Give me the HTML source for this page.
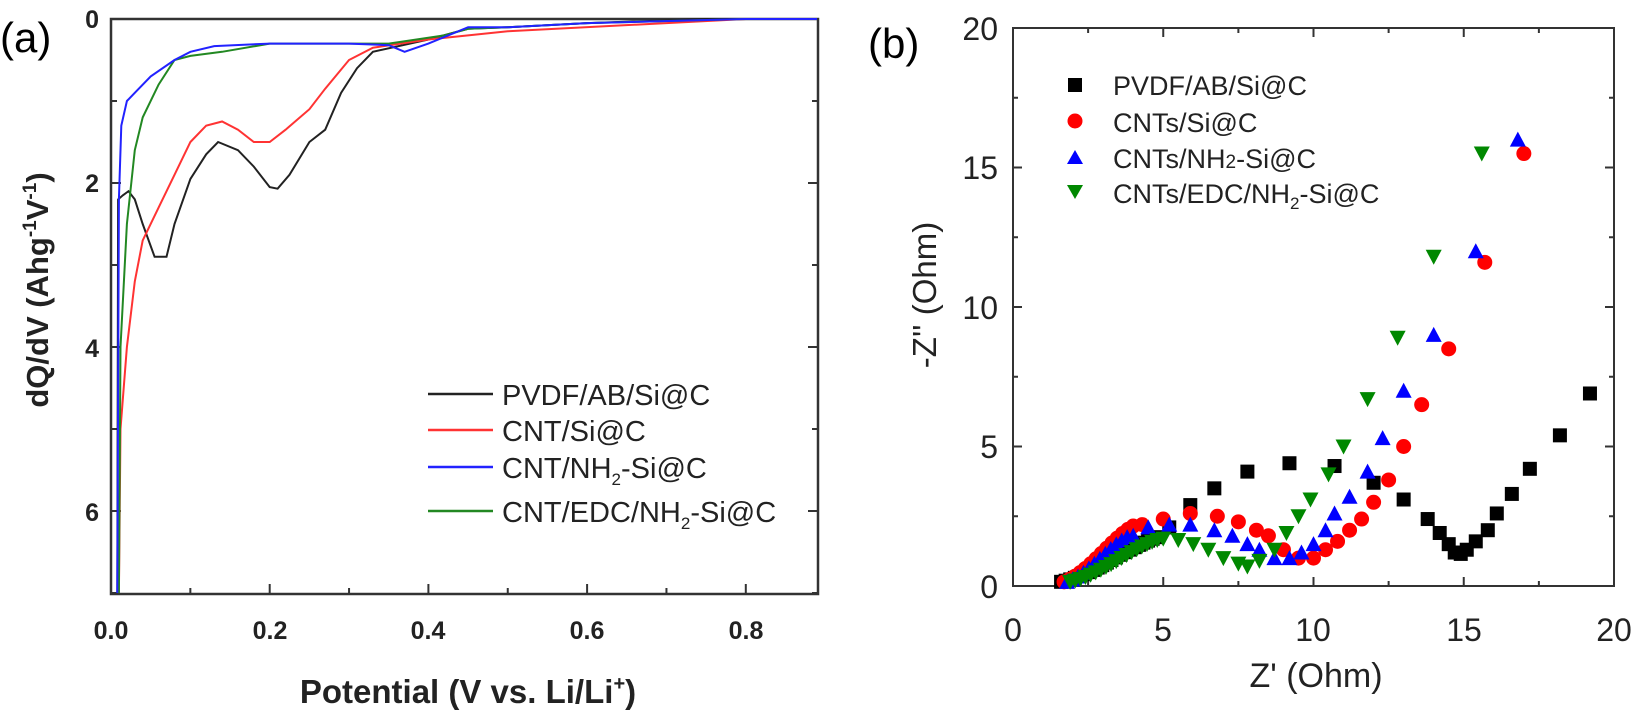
<!DOCTYPE html>
<html><head><meta charset="utf-8"><style>
html,body{margin:0;padding:0;background:#fff;overflow:hidden}
svg{display:block}
text{font-family:"Liberation Sans",Arial,sans-serif}
</style></head><body>
<svg id="s" width="1635" height="722" xmlns="http://www.w3.org/2000/svg">
<rect width="1635" height="722" fill="#fff"/>
<!-- Panel a -->
<text x="0" y="52" font-size="42">(a)</text>
<rect x="111" y="19" width="707" height="575" fill="none" stroke="#333" stroke-width="2.5"/>
<g id="ta"></g>
<g font-size="25" font-weight="bold" fill="#222" text-anchor="middle">
<text x="111" y="639">0.0</text><text x="270" y="639">0.2</text><text x="428" y="639">0.4</text><text x="587" y="639">0.6</text><text x="746" y="639">0.8</text>
</g>
<g font-size="25" font-weight="bold" fill="#222" text-anchor="end">
<text x="99" y="28">0</text><text x="99" y="192">2</text><text x="99" y="357">4</text><text x="99" y="521">6</text>
</g>
<text x="468" y="703" font-size="33" font-weight="bold" text-anchor="middle" fill="#222">Potential (V vs. Li/Li<tspan dy="-13" font-size="20">+</tspan><tspan dy="13">)</tspan></text>
<text transform="translate(48,290) rotate(-90)" font-size="31" font-weight="bold" text-anchor="middle" fill="#222">dQ/dV (Ahg<tspan dy="-12" font-size="19">-1</tspan><tspan dy="12">V</tspan><tspan dy="-12" font-size="19">-1</tspan><tspan dy="12">)</tspan></text>
<g id="ca" fill="none" stroke-width="2"></g>
<g stroke-width="2.5">
<line x1="428" y1="394" x2="493" y2="394" stroke="#222"/>
<line x1="428" y1="430" x2="493" y2="430" stroke="#f33"/>
<line x1="428" y1="467" x2="493" y2="467" stroke="#22f"/>
<line x1="428" y1="511" x2="493" y2="511" stroke="#282"/>
</g>
<g font-size="29" fill="#222">
<text x="502" y="405">PVDF/AB/Si@C</text>
<text x="502" y="441">CNT/Si@C</text>
<text x="502" y="478">CNT/NH<tspan dy="7" font-size="17">2</tspan><tspan dy="-7">-Si@C</tspan></text>
<text x="502" y="522">CNT/EDC/NH<tspan dy="7" font-size="17">2</tspan><tspan dy="-7">-Si@C</tspan></text>
</g>
<!-- Panel b -->
<text x="868" y="58" font-size="42">(b)</text>
<rect x="1013" y="28" width="601" height="558" fill="none" stroke="#333" stroke-width="2"/>
<g id="tb"></g>
<g font-size="32" fill="#222" text-anchor="middle">
<text x="1013" y="641">0</text><text x="1163" y="641">5</text><text x="1313" y="641">10</text><text x="1464" y="641">15</text><text x="1614" y="641">20</text>
<text x="1316" y="687" font-size="34">Z' (Ohm)</text>
</g>
<g font-size="32" fill="#222" text-anchor="end">
<text x="998" y="598">0</text><text x="998" y="458">5</text><text x="998" y="319">10</text><text x="998" y="179">15</text><text x="998" y="40">20</text>
</g>
<text transform="translate(936,295) rotate(-90)" font-size="33" text-anchor="middle" fill="#222">-Z'' (Ohm)</text>
<g id="mb"></g>
<g font-size="27" fill="#222">
<rect x="1068" y="78" width="14" height="14" fill="#000"/>
<circle cx="1075" cy="121" r="7.5" fill="#f00"/>
<polygon points="1075,150 1083,164 1067,164" fill="#00f"/>
<polygon points="1067,185 1083,185 1075,199" fill="#080"/>
<text x="1113" y="95">PVDF/AB/Si@C</text>
<text x="1113" y="132">CNTs/Si@C</text>
<text x="1113" y="168">CNTs/NH<tspan font-size="19">2</tspan>-Si@C</text>
<text x="1113" y="203">CNTs/EDC/NH<tspan dy="6" font-size="17">2</tspan><tspan dy="-6">-Si@C</tspan></text>
</g>
</svg>
<script>
var NS="http://www.w3.org/2000/svg";
function el(p,t,a){var e=document.createElementNS(NS,t);for(var k in a)e.setAttribute(k,a[k]);document.getElementById(p).appendChild(e);return e;}
for(var i=0;i<=9;i++){var x=111+i*0.1*793.5;if(x>818)break;el('ta','line',{x1:x,y1:594,x2:x,y2:(i%2?588:584),stroke:'#333','stroke-width':2});}
for(var y=0;y<=7;y++){var yy=19+y*82;el('ta','line',{x1:111,y1:yy,x2:y%2?117:121,y2:yy,stroke:'#333','stroke-width':2});el('ta','line',{x1:818,y1:yy,x2:y%2?812:808,y2:yy,stroke:'#333','stroke-width':2});}
function ax(v){return 111+v*793.5}function ay(d){return 19+d*82}
var A={
'#222':[[0.008,7],[0.009,2.2],[0.015,2.15],[0.022,2.1],[0.03,2.2],[0.04,2.5],[0.055,2.9],[0.07,2.9],[0.08,2.5],[0.1,1.95],[0.12,1.65],[0.135,1.5],[0.16,1.6],[0.18,1.8],[0.2,2.05],[0.21,2.07],[0.225,1.9],[0.25,1.5],[0.27,1.35],[0.29,0.9],[0.31,0.6],[0.33,0.4],[0.4,0.25],[0.45,0.12],[0.5,0.1],[0.6,0.05],[0.75,0],[0.9,0]],
'#f33':[[0.01,7],[0.012,5],[0.02,4],[0.03,3.2],[0.04,2.7],[0.06,2.3],[0.08,1.9],[0.1,1.5],[0.12,1.3],[0.14,1.25],[0.16,1.35],[0.18,1.5],[0.2,1.5],[0.22,1.35],[0.25,1.1],[0.27,0.85],[0.3,0.5],[0.33,0.35],[0.4,0.25],[0.5,0.15],[0.7,0.05],[0.8,0],[0.9,0]],
'#282':[[0.01,7],[0.012,4],[0.02,2.5],[0.03,1.6],[0.04,1.2],[0.06,0.8],[0.08,0.5],[0.1,0.45],[0.14,0.4],[0.2,0.3],[0.3,0.3],[0.35,0.3],[0.42,0.2],[0.45,0.12],[0.5,0.1],[0.6,0.05],[0.8,0],[0.9,0]],
'#22f':[[0.008,7],[0.01,2.2],[0.013,1.3],[0.02,1.0],[0.03,0.9],[0.05,0.7],[0.08,0.5],[0.1,0.4],[0.13,0.33],[0.2,0.3],[0.3,0.3],[0.35,0.32],[0.37,0.4],[0.4,0.3],[0.45,0.1],[0.5,0.1],[0.6,0.05],[0.8,0],[0.9,0]]};
for(var c in A){var d='';A[c].forEach(function(p,i){d+=(i?'L':'M')+Math.min(ax(p[0]),817).toFixed(1)+','+ay(p[1]).toFixed(1);});el('ca','path',{d:d,stroke:c});}
function bx(v){return 1013+v*30.05}function by(v){return 586-v*27.9}
for(var i=0;i<=8;i++){var v=i*2.5,x=bx(v);el('tb','line',{x1:x,y1:586,x2:x,y2:i%2?581:577,stroke:'#333','stroke-width':2});el('tb','line',{x1:x,y1:28,x2:x,y2:i%2?33:37,stroke:'#333','stroke-width':2});}
for(var i=0;i<=8;i++){var v=i*2.5,y=by(v);el('tb','line',{x1:1013,y1:y,x2:i%2?1018:1022,y2:y,stroke:'#333','stroke-width':2});el('tb','line',{x1:1614,y1:y,x2:i%2?1609:1605,y2:y,stroke:'#333','stroke-width':2});}
function low(x0,x1,h,n){var r=[];for(var i=0;i<n;i++){var t=i/(n-1);r.push([x0+(x1-x0)*t,h*Math.sin(Math.PI*t*0.5)*(0.3+0.7*t)+0.15]);}return r;}
function mk(type,pts){pts.forEach(function(p){var x=bx(p[0]),y=by(p[1]),s=7;
if(type=='sq')el('mb','rect',{x:x-s,y:y-s,width:2*s,height:2*s,fill:'#000'});
else if(type=='ci')el('mb','circle',{cx:x,cy:y,r:s+0.5,fill:'#f00'});
else if(type=='up')el('mb','polygon',{points:(x)+','+(y-s-1)+' '+(x+s+1)+','+(y+s)+' '+(x-s-1)+','+(y+s),fill:'#00f'});
else el('mb','polygon',{points:(x-s-1)+','+(y-s)+' '+(x+s+1)+','+(y-s)+' '+x+','+(y+s+1),fill:'#080'});});}
mk('sq',low(1.6,4.8,1.6,22).concat([[5.2,2.1],[5.9,2.9],[6.7,3.5],[7.8,4.1],[9.2,4.4],[10.7,4.3],[12,3.7],[13,3.1],[13.8,2.4],[14.2,1.9],[14.5,1.5],[14.7,1.2],[14.9,1.15],[15.1,1.3],[15.4,1.6],[15.8,2.0],[16.1,2.6],[16.6,3.3],[17.2,4.2],[18.2,5.4],[19.2,6.9]]));
mk('ci',low(1.7,4.0,2.0,14).concat([[4.3,2.2],[5,2.4],[5.9,2.6],[6.8,2.5],[7.5,2.3],[8.1,2.0],[8.5,1.8],[9,1.3],[9.5,1.0],[10,1.0],[10.4,1.3],[10.8,1.6],[11.2,2.0],[11.6,2.4],[12,3.0],[12.5,3.8],[13,5],[13.6,6.5],[14.5,8.5],[15.7,11.6],[17,15.5]]));
mk('up',low(1.8,3.8,1.6,12).concat([[4,1.8],[4.5,2.1],[5.2,2.2],[5.9,2.2],[6.7,2.0],[7.3,1.8],[7.8,1.5],[8.2,1.3],[8.7,1.0],[9.2,1.0],[9.6,1.2],[10,1.5],[10.4,2.0],[10.7,2.6],[11.2,3.2],[11.8,4.1],[12.3,5.3],[13,7],[14,9],[15.4,12],[16.8,16]]));
mk('dn',low(1.9,4.8,1.5,18).concat([[5,1.7],[5.5,1.65],[6,1.5],[6.5,1.3],[7,1.0],[7.5,0.8],[7.8,0.7],[8.2,0.9],[8.7,1.3],[9.1,1.9],[9.5,2.5],[9.9,3.1],[10.5,4.0],[11,5.0],[11.8,6.7],[12.8,8.9],[14,11.8],[15.6,15.5]]));
</script>
</body></html>
